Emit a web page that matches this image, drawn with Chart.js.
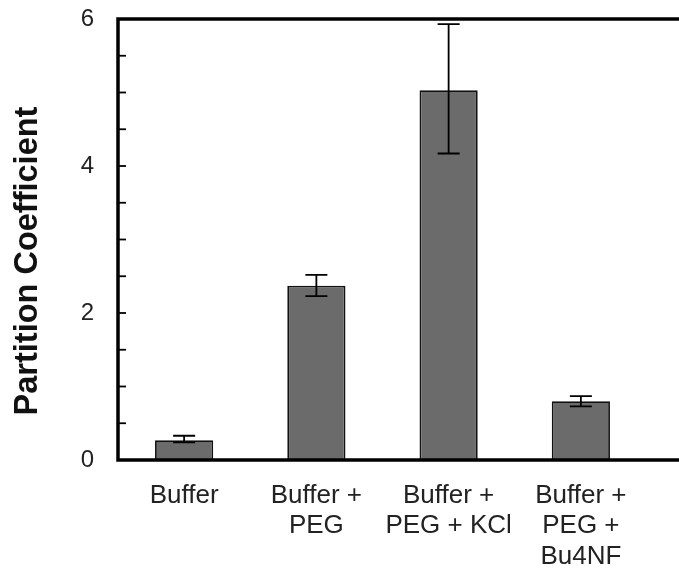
<!DOCTYPE html>
<html>
<head>
  <meta charset="utf-8">
  <title>Partition Coefficient</title>
  <script src="https://cdn.jsdelivr.net/npm/chart.js"></script>
  <style>
    html, body { margin: 0; padding: 0; background: #fff; }
    #wrap { width: 679px; height: 571px; }
  </style>
</head>
<body>
  <div id="wrap"><canvas id="partitionChart"></canvas></div>
  <script>
    const categories = [
      ["Buffer"],
      ["Buffer +", "PEG"],
      ["Buffer +", "PEG + KCl"],
      ["Buffer +", "PEG +", "Bu4NF"],
    ];
    const partitionValues = [0.27, 2.37, 5.03, 0.80];
    const errorLow = [0.24, 2.23, 4.17, 0.73];
    const errorHigh = [0.33, 2.52, 5.93, 0.87];
    const yTickStep = 0.5;
    const yLabelStep = 2;

    const fontFamily = "'Liberation Sans', Arial, Helvetica, sans-serif";

    // axis frame, inward minor ticks, error bars and the rotated axis title
    const framePlugin = {
      id: "frame",
      afterDatasetsDraw: (chart) => {
        const { ctx, chartArea, scales } = chart;
        const y = scales.y;
        const x = scales.x;

        ctx.save();
        ctx.strokeStyle = "#000";
        ctx.lineWidth = 1.8;
        errorHigh.forEach((high, i) => {
          const cx = x.getPixelForValue(i);
          const top = y.getPixelForValue(high);
          const bottom = y.getPixelForValue(errorLow[i]);
          ctx.beginPath();
          ctx.moveTo(cx, top);
          ctx.lineTo(cx, bottom);
          ctx.moveTo(cx - 11, top);
          ctx.lineTo(cx + 11, top);
          ctx.moveTo(cx - 11, bottom);
          ctx.lineTo(cx + 11, bottom);
          ctx.stroke();
        });

        y.ticks.forEach((tick) => {
          if (tick.value <= y.min || tick.value >= y.max) return;
          const py = y.getPixelForValue(tick.value);
          ctx.beginPath();
          ctx.moveTo(chartArea.left, py);
          ctx.lineTo(chartArea.left + 8, py);
          ctx.stroke();
        });

        ctx.lineWidth = 3.5;
        ctx.lineCap = "square";
        ctx.beginPath();
        ctx.moveTo(chart.width + 2, chartArea.top);
        ctx.lineTo(chartArea.left, chartArea.top);
        ctx.lineTo(chartArea.left, chartArea.bottom);
        ctx.lineTo(chart.width + 2, chartArea.bottom);
        ctx.stroke();

        ctx.translate(28, 261);
        ctx.rotate(-Math.PI / 2);
        ctx.fillStyle = "#111";
        ctx.font = `bold 32.5px ${fontFamily}`;
        ctx.textAlign = "center";
        ctx.textBaseline = "middle";
        ctx.fillText("Partition Coefficient", 0, 0);
        ctx.restore();
      },
    };

    const ctx = document.getElementById("partitionChart").getContext("2d");
    const partitionChart = new Chart(ctx, {
      type: "bar",
      data: {
        labels: categories,
        datasets: [{
          data: partitionValues,
          backgroundColor: "#6b6b6b",
          borderColor: "#111",
          borderWidth: 1.8,
          barPercentage: 0.44,
          categoryPercentage: 1,
        }],
      },
      options: {
        responsive: true,
        maintainAspectRatio: false,
        animation: false,
        layout: {
          padding: { top: 19, right: 32, bottom: 0, left: 0 },
        },
        plugins: {
          legend: { display: false },
          tooltip: { enabled: false },
        },
        scales: {
          x: {
            grid: { display: false },
            border: { display: false },
            ticks: {
              color: "#222",
              padding: 12,
              maxRotation: 0,
              autoSkip: false,
              font: { family: fontFamily, size: 26, lineHeight: 1.18 },
            },
            afterFit: (scale) => {
              scale.height = 111;
            },
          },
          y: {
            min: 0,
            max: 6,
            grid: { display: false, drawTicks: false },
            border: { display: false },
            ticks: {
              stepSize: yTickStep,
              autoSkip: false,
              color: "#222",
              padding: 24,
              font: { family: fontFamily, size: 24 },
              callback: (value) => (value % yLabelStep === 0 ? value : ""),
            },
            afterFit: (scale) => {
              scale.width = 118;
              scale.paddingTop = 0;
              scale.paddingBottom = 0;
            },
          },
        },
      },
      plugins: [framePlugin],
    });
  </script>
</body>
</html>
